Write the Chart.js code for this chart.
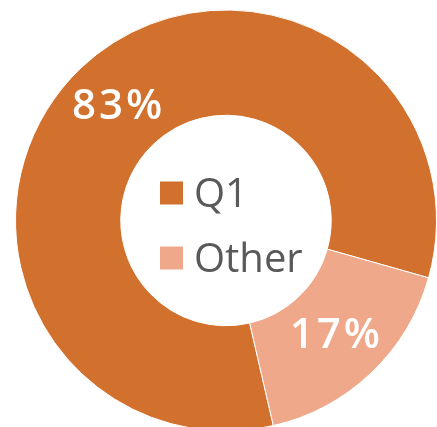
<!DOCTYPE html>
<html>
<head>
<meta charset="utf-8">
<script src="https://cdn.jsdelivr.net/npm/chart.js@4/dist/chart.umd.min.js"></script>
<style>
html,body{margin:0;padding:0;background:#fff;overflow:hidden;}
#wrap{position:relative;width:437px;height:432px;}
</style>
</head>
<body>
<div id="wrap"><canvas id="c"></canvas></div>
<script>
const categories = ["Q1", "Other"];
const shareValues = [83, 17];
const valueLabels = ["83%", "17%"];
const sliceColors = ["#D2702D", "#F0A88A"];

const centerLegend = {
  id: 'centerLegend',
  afterDraw(chart) {
    const ctx = chart.ctx;
    const meta = chart.getDatasetMeta(0);
    const arc = meta.data[0];
    const cx = arc.x, cy = arc.y;
    ctx.save();
    ctx.font = '40px "Open Sans"';
    ctx.textBaseline = 'alphabetic';
    ctx.textAlign = 'left';
    const rows = [-39, 26];
    chart.data.labels.forEach((lab, i) => {
      const top = cy + rows[i];
      ctx.fillStyle = chart.data.datasets[0].backgroundColor[i];
      ctx.fillRect(cx - 66, top, 23, 23);
      ctx.fillStyle = '#595959';
      ctx.fillText(lab, cx - 32, top + 25);
    });
    // slice value labels
    ctx.font = '600 42px "Open Sans"';
    ctx.letterSpacing = '3px';
    ctx.textAlign = 'center';
    ctx.textBaseline = 'middle';
    ctx.fillStyle = '#ffffff';
    meta.data.forEach((a, i) => {
      const p = a.getCenterPoint();
      ctx.fillText(valueLabels[i], p.x + 1.5, p.y + 1);
    });
    ctx.restore();
  }
};

new Chart(document.getElementById('c'), {
  type: 'doughnut',
  data: {
    labels: categories,
    datasets: [{
      data: shareValues,
      backgroundColor: sliceColors,
      borderColor: '#ffffff',
      borderWidth: 1,
      hoverOffset: 0
    }]
  },
  options: {
    responsive: true,
    maintainAspectRatio: false,
    animation: false,
    rotation: 167,
    cutout: '50%',
    layout: { padding: { left: 15, right: 0, top: 9, bottom: 0 } },
    plugins: { legend: { display: false }, tooltip: { enabled: false } }
  },
  plugins: [centerLegend]
});
</script>
</body>
</html>
